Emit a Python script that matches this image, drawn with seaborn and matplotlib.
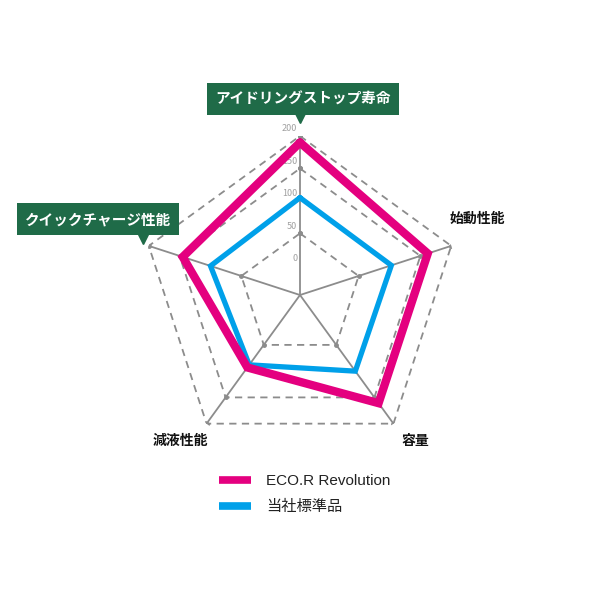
import numpy as np
import pandas as pd
import matplotlib
matplotlib.use("Agg")
import matplotlib.pyplot as plt
import seaborn as sns

# data
categories = ["アイドリングストップ寿命", "始動性能", "容量", "減液性能", "クイックチャージ性能"]
eco_r = [190, 162, 161, 93, 145]
standard = [105, 103, 100, 88, 100]
series_names = ["ECO.R Revolution", "当社標準品"]
ring_levels = [50, 150, 200]
tick_values = [200, 150, 100, 50, 0]

MAGENTA = "#e4007f"
BLUE = "#00a0e9"
GRAY = "#8c8c8c"
GREEN = "#1f6b48"

sns.set_theme(style="white")
plt.rcParams["font.family"] = ["Noto Sans CJK JP", "DejaVu Sans"]

angles = np.linspace(0, 2 * np.pi, len(categories), endpoint=False)
closed_angles = np.append(angles, angles[0])

fig = plt.figure(figsize=(6, 6), dpi=100)
ax = fig.add_axes([0.235, 0.2433, 0.53, 0.53], projection="polar")
ax.set_theta_zero_location("N")
ax.set_theta_direction(-1)
ax.set_ylim(-45, 200)
ax.grid(False)
ax.set_xticks([])
ax.set_yticks([])
for sp in ax.spines.values():
    sp.set_visible(False)
ax.set_facecolor("none")

# spokes
for th in angles:
    ax.plot([th, th], [-45, 200], color=GRAY, lw=1.3, zorder=1)

# dashed rings
for lvl in ring_levels:
    ax.plot(closed_angles, [lvl] * len(closed_angles), color=GRAY, lw=1.3,
            ls=(0, (4, 3)), marker="o", ms=2.5, zorder=1)

# series (closed polygons)
n = len(closed_angles)
df = pd.DataFrame({
    "theta": np.concatenate([closed_angles, closed_angles]),
    "value": eco_r + [eco_r[0]] + standard + [standard[0]],
    "series": [series_names[0]] * n + [series_names[1]] * n,
})
sns.lineplot(data=df[df.series == series_names[1]], x="theta", y="value", sort=False,
             estimator=None, color=BLUE, lw=3.8, ax=ax, label=series_names[1], zorder=3)
sns.lineplot(data=df[df.series == series_names[0]], x="theta", y="value", sort=False,
             estimator=None, color=MAGENTA, lw=6, ax=ax, label=series_names[0], zorder=4)
for ln in ax.get_lines()[-2:]:
    ln.set_solid_joinstyle("miter")
ax.set_xlabel("")
ax.set_ylabel("")
ax.get_legend().remove()

# radial tick labels along top axis
for v in tick_values:
    ax.annotate(str(v), xy=(0, v), xytext=(-2, 2), textcoords="offset points",
                ha="right", va="bottom", fontsize=6.5, color="#a0a0a0")

# category labels
def px(x, y):
    return x / 600, 1 - y / 600

box = dict(boxstyle="square,pad=0.55", fc=GREEN, ec="none")
fig.text(*px(303, 99), categories[0], ha="center", va="center", fontsize=10.5,
         fontweight="bold", color="white", bbox=box)
fig.text(*px(98, 219), categories[4], ha="center", va="center", fontsize=10.5,
         fontweight="bold", color="white", bbox=box)
fig.lines.append(plt.Line2D([300 / 600], [1 - 117 / 600], marker="v", ms=8, color=GREEN,
                            transform=fig.transFigure))
fig.lines.append(plt.Line2D([143 / 600], [1 - 238 / 600], marker="v", ms=8, color=GREEN,
                            transform=fig.transFigure))
fig.text(*px(477, 219), categories[1], ha="center", va="center", fontsize=10,
         fontweight="bold", color="#111111")
fig.text(*px(415, 441), categories[2], ha="center", va="center", fontsize=10,
         fontweight="bold", color="#111111")
fig.text(*px(180, 441), categories[3], ha="center", va="center", fontsize=10,
         fontweight="bold", color="#111111")

# legend
handles = [plt.Line2D([], [], color=MAGENTA, lw=5.5, solid_capstyle="butt"),
           plt.Line2D([], [], color=BLUE, lw=5.5, solid_capstyle="butt")]
leg = fig.legend(handles, series_names, loc="upper left", bbox_to_anchor=(0.365, 1 - 474 / 600),
                 frameon=False, prop={"family": ["Liberation Sans", "Noto Sans CJK JP"], "size": 11},
                 handlelength=2.1, handletextpad=1.0, labelspacing=0.8,
                 borderaxespad=0, borderpad=0)
for t in leg.get_texts():
    t.set_color("#222222")

fig.savefig("out.png", dpi=100, facecolor="white")
